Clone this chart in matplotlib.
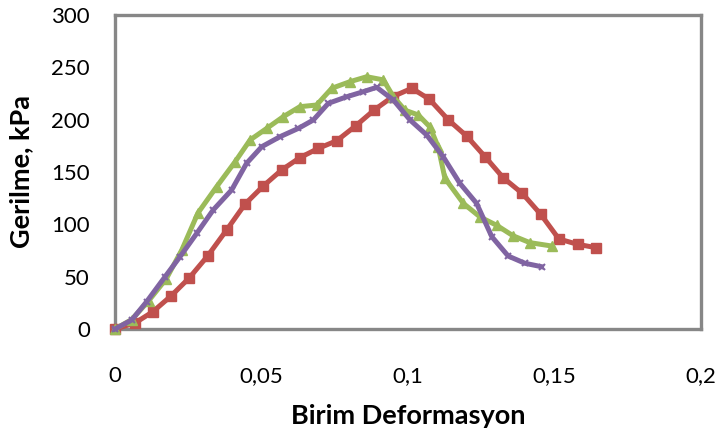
import matplotlib
matplotlib.use("Agg")
import matplotlib.pyplot as plt

# Strain (Birim Deformasyon) and stress (Gerilme, kPa) for three samples
strain_red = [0.0, 0.0068, 0.0129, 0.0191, 0.0254, 0.0316, 0.0381, 0.0444, 0.0506,
              0.0569, 0.0631, 0.0694, 0.0757, 0.0821, 0.0885, 0.0948, 0.1013, 0.1073,
              0.1138, 0.1200, 0.1263, 0.1325, 0.1390, 0.1453, 0.1515, 0.1579, 0.1642]
stress_red = [0, 5.7, 16.5, 31.5, 49, 69.7, 94.6, 119.4, 136.6,
              152, 163.7, 172.6, 179.9, 194, 209.3, 222, 230, 219.5,
              199.7, 184.4, 164.6, 144.5, 129.6, 109.6, 86, 80.9, 77.7]

strain_green = [0.0, 0.0057, 0.0115, 0.0175, 0.0228, 0.0283, 0.0347, 0.0410, 0.0461,
                0.0518, 0.0574, 0.0631, 0.0688, 0.0740, 0.0802, 0.0859, 0.0916, 0.0950,
                0.0990, 0.1035, 0.1075, 0.1103, 0.1126, 0.1189, 0.1246, 0.1303, 0.1359,
                0.1416, 0.1490]
stress_green = [0, 9, 27, 48, 75.5, 110.8, 136, 159.8, 180.6,
                191.7, 202.8, 212.4, 214, 230, 236.3, 241, 238, 222,
                209, 204.5, 193, 174, 144, 120, 107, 99, 89,
                82.5, 79.3]

strain_purple = [0.0, 0.0057, 0.0108, 0.0171, 0.0222, 0.0279, 0.0335, 0.0398, 0.0449,
                 0.0501, 0.0563, 0.0626, 0.0677, 0.0728, 0.0791, 0.0847, 0.0893, 0.0950,
                 0.1007, 0.1064, 0.1120, 0.1177, 0.1234, 0.1286, 0.1342, 0.1399, 0.1456]
stress_purple = [0, 8.6, 26.1, 50, 69.1, 91.4, 113.7, 132.8, 158.3,
                 174.2, 183.7, 191.7, 199.7, 215.6, 221.9, 226.7, 230.9, 218.8,
                 199.7, 185.3, 164.6, 139.2, 120.1, 88.2, 69.7, 62.8, 59.5]

x_ticks = [0, 0.05, 0.1, 0.15, 0.2]
x_tick_labels = ["0", "0,05", "0,1", "0,15", "0,2"]
y_ticks = [0, 50, 100, 150, 200, 250, 300]

plt.rcParams["font.family"] = ["Lato", "DejaVu Sans"]

fig = plt.figure(figsize=(7.22, 4.37), dpi=100)
ax = fig.add_axes([115 / 722, 1 - 329 / 437, 586 / 722, 314 / 437])

ax.plot(strain_red, stress_red, color="#C0504D", lw=3.6, marker="s", ms=7,
        mec="#C0504D", mfc="#C0504D", clip_on=False, zorder=3)
ax.plot(strain_green, stress_green, color="#9BBB59", lw=3.6, marker="^", ms=6.5,
        mec="#9BBB59", mfc="#9BBB59", clip_on=False, zorder=4)
ax.plot(strain_purple, stress_purple, color="#8064A2", lw=3.6, marker="x", ms=5,
        mew=1.5, mec="#8064A2", clip_on=False, zorder=5)

ax.set_xlim(0, 0.2)
ax.set_ylim(0, 300)
ax.set_xticks(x_ticks)
ax.set_xticklabels(x_tick_labels)
ax.set_yticks(y_ticks)

ax.tick_params(axis="both", length=0, labelsize=16, colors="black")
ax.tick_params(axis="x", pad=27)
ax.tick_params(axis="y", pad=18)

for sp in ax.spines.values():
    sp.set_color("#878787")
    sp.set_linewidth(2.4)

ax.set_xlabel("Birim Deformasyon", fontsize=19.5, fontweight="bold")
ax.set_ylabel("Gerilme, kPa", fontsize=19.5, fontweight="bold")
ax.xaxis.set_label_coords(0.5, -0.238)
ax.yaxis.set_label_coords(-0.140, 0.5)

fig.savefig("out.png", dpi=100)
